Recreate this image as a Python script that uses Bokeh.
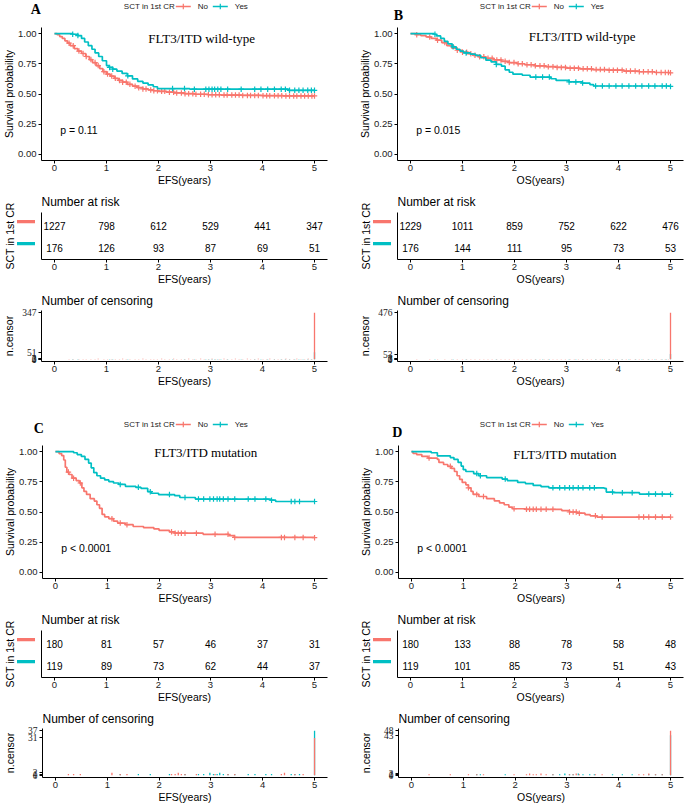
import numpy as np
from bokeh.plotting import figure
from bokeh.layouts import column, row
from bokeh.models import Label, FixedTicker, Range1d, NumeralTickFormatter
from bokeh.core.properties import value
from bokeh.embed import file_html
from bokeh.resources import INLINE

# ---------------- data ----------------
years = [0, 1, 2, 3, 4, 5]
legend_title = "SCT in 1st CR"
group_labels = ["No", "Yes"]
row_pos = {"No": 2, "Yes": 1}

# Panel A: FLT3/ITD wild-type, EFS
A_no_t = [0, 0.05, 0.10, 0.15, 0.20, 0.25, 0.30, 0.38, 0.45, 0.52, 0.60, 0.67, 0.73, 0.80, 0.87, 0.93,
          1.00, 1.07, 1.15, 1.23, 1.31, 1.40, 1.50, 1.60, 1.70, 1.80, 1.90, 2.00, 2.15, 2.30, 2.50, 2.70, 2.95,
          3.20, 3.60, 4.00, 4.40, 5.00]
A_no_s = [1.0, 0.99, 0.975, 0.96, 0.94, 0.92, 0.90, 0.875, 0.855, 0.835, 0.81, 0.785, 0.76, 0.735, 0.71, 0.685,
          0.665, 0.648, 0.63, 0.612, 0.598, 0.58, 0.565, 0.552, 0.542, 0.534, 0.527, 0.522, 0.515, 0.509, 0.503, 0.498, 0.494,
          0.491, 0.488, 0.486, 0.484, 0.484]
A_yes_t = [0, 0.35, 0.45, 0.52, 0.58, 0.65, 0.72, 0.78, 0.85, 0.92, 1.00, 1.05, 1.12, 1.20, 1.30,
           1.40, 1.50, 1.60, 1.70, 1.80, 1.90, 1.98, 2.60, 4.50, 5.00]
A_yes_s = [1.0, 0.994, 0.983, 0.96, 0.93, 0.90, 0.87, 0.84, 0.81, 0.775, 0.735, 0.72, 0.705, 0.69, 0.67,
           0.65, 0.625, 0.605, 0.59, 0.575, 0.56, 0.545, 0.54, 0.53, 0.53]
A_no_ct = [0.28, 0.36, 0.47, 0.55, 0.61, 0.70, 0.78, 0.84,
           0.95, 1.02, 1.10, 1.17, 1.25, 1.31, 1.38, 1.45,
           1.55, 1.62, 1.70, 1.76, 1.85, 1.91, 1.98, 2.06,
           2.12, 2.21, 2.29, 2.35, 2.44, 2.51, 2.58, 2.66,
           2.72, 2.81, 2.88, 2.96, 3.03, 3.10, 3.17, 3.26,
           3.32, 3.41, 3.48, 3.55, 3.62, 3.71, 3.77, 3.85,
           3.92, 4.01, 4.08, 4.14, 4.23, 4.30, 4.37, 4.45,
           4.52, 4.60, 4.66, 4.74, 4.81, 4.88, 4.95, 5.00]
A_no_cn = [1, 1, 2, 1, 1, 2, 1, 3,
           1, 2, 1, 1, 2, 3, 1, 2,
           1, 2, 3, 2, 1, 2, 2, 3,
           2, 1, 3, 2, 2, 1, 3, 2,
           2, 3, 1, 2, 3, 2, 2, 3,
           1, 2, 3, 2, 1, 3, 2, 2,
           3, 1, 2, 3, 2, 2, 1, 3,
           2, 2, 3, 1, 2, 3, 2, 347]
A_yes_ct = [0.35, 0.45, 1.06, 1.12, 1.41, 2.27, 2.50, 2.69,
            2.91, 2.97, 3.03, 3.08, 3.14, 3.20, 3.33, 3.59,
            3.85, 3.97, 4.10, 4.23, 4.36, 4.44, 4.52, 4.62,
            4.70, 4.78, 4.87, 4.94, 5.00]
A_yes_cn = [1, 1, 1, 1, 1, 1, 1, 1,
            1, 1, 2, 1, 1, 1, 1, 1,
            1, 1, 1, 1, 1, 1, 1, 1,
            1, 1, 1, 1, 51]
A_risk_no = [1227, 798, 612, 529, 441, 347]
A_risk_yes = [176, 126, 93, 87, 69, 51]

# Panel B: FLT3/ITD wild-type, OS
B_no_t = [0, 0.10, 0.20, 0.30, 0.40, 0.50, 0.60, 0.70, 0.80, 0.90, 1.00, 1.10, 1.20, 1.30, 1.45, 1.60,
          1.75, 1.90, 2.05, 2.20, 2.40, 2.60, 2.80, 3.00, 3.25, 3.50, 3.80, 4.10, 4.40, 4.70, 5.00]
B_no_s = [1.0, 0.99, 0.982, 0.972, 0.96, 0.945, 0.925, 0.90, 0.88, 0.862, 0.846, 0.833, 0.82, 0.808, 0.795, 0.782,
          0.77, 0.76, 0.75, 0.742, 0.733, 0.726, 0.72, 0.714, 0.708, 0.702, 0.697, 0.69, 0.684, 0.678, 0.675]
B_yes_t = [0, 0.45, 0.50, 0.58, 0.65, 0.72, 0.80, 0.88, 0.95, 1.02, 1.15, 1.25, 1.35, 1.45, 1.55,
           1.65, 1.75, 1.82, 1.90, 1.97, 2.15, 2.30, 2.70, 2.80, 3.05, 3.30, 3.45, 3.52, 5.00]
B_yes_s = [1.0, 0.994, 0.98, 0.96, 0.935, 0.915, 0.89, 0.87, 0.855, 0.84, 0.83, 0.82, 0.80, 0.78, 0.765,
           0.745, 0.73, 0.70, 0.68, 0.664, 0.655, 0.64, 0.626, 0.612, 0.60, 0.59, 0.578, 0.566, 0.563]
B_no_ct = [0.12, 0.37, 0.52, 0.66, 0.79, 0.90, 1.00, 1.08,
           1.16, 1.24, 1.33, 1.41, 1.49, 1.57, 1.66, 1.74,
           1.82, 1.90, 1.99, 2.07, 2.15, 2.24, 2.32, 2.40,
           2.49, 2.57, 2.65, 2.74, 2.82, 2.90, 2.98, 3.07,
           3.15, 3.23, 3.32, 3.40, 3.48, 3.57, 3.65, 3.73,
           3.82, 3.90, 3.98, 4.07, 4.15, 4.23, 4.32, 4.40,
           4.48, 4.57, 4.65, 4.73, 4.82, 4.90, 4.96, 5.00]
B_no_cn = [1, 1, 1, 2, 1, 2, 1, 2,
           3, 2, 1, 2, 3, 2, 2, 3,
           2, 2, 3, 2, 3, 2, 2, 3,
           2, 3, 2, 2, 3, 2, 3, 2,
           2, 3, 2, 3, 2, 2, 3, 2,
           3, 2, 2, 3, 2, 3, 2, 2,
           3, 2, 2, 3, 2, 3, 2, 476]
B_yes_ct = [0.47, 0.82, 1.07, 1.65, 2.41, 2.54, 2.67, 3.05,
            3.18, 3.31, 3.56, 3.69, 3.82, 3.95, 4.07, 4.20,
            4.33, 4.45, 4.58, 4.70, 4.84, 4.92, 5.00]
B_yes_cn = [1, 1, 1, 1, 1, 1, 1, 1,
            1, 1, 1, 1, 1, 1, 1, 1,
            1, 1, 1, 1, 1, 1, 53]
B_risk_no = [1229, 1011, 859, 752, 622, 476]
B_risk_yes = [176, 144, 111, 95, 73, 53]

# Panel C: FLT3/ITD mutation, EFS
C_no_t = [0, 0.07, 0.12, 0.16, 0.19, 0.22, 0.26, 0.32, 0.40, 0.46, 0.51, 0.55, 0.60, 0.67, 0.75,
          0.80, 0.85, 0.90, 0.95, 1.03, 1.12, 1.20, 1.35, 1.50, 1.70, 1.90, 2.00, 2.20, 2.30, 2.85,
          3.35, 3.45, 5.00]
C_no_s = [1.0, 0.983, 0.967, 0.93, 0.87, 0.83, 0.81, 0.78, 0.76, 0.74, 0.70, 0.67, 0.645, 0.61, 0.59,
          0.56, 0.53, 0.48, 0.46, 0.445, 0.425, 0.408, 0.395, 0.38, 0.37, 0.36, 0.348, 0.336, 0.325, 0.315,
          0.305, 0.29, 0.288]
C_yes_t = [0, 0.35, 0.42, 0.50, 0.57, 0.64, 0.69, 0.74, 0.80, 0.87, 0.95, 1.03, 1.12, 1.22, 1.35,
           1.55, 1.65, 1.78, 1.85, 1.99, 2.30, 2.40, 2.70, 4.15, 4.25, 5.00]
C_yes_s = [1.0, 0.99, 0.975, 0.96, 0.935, 0.905, 0.865, 0.825, 0.80, 0.78, 0.765, 0.752, 0.74, 0.728, 0.712,
           0.704, 0.696, 0.668, 0.655, 0.644, 0.635, 0.62, 0.607, 0.598, 0.587, 0.587]
C_no_ct = [0.25, 0.35, 0.48, 1.09, 1.25, 1.38, 2.24, 2.31,
           2.37, 2.43, 2.50, 2.72, 3.08, 3.33, 3.46, 4.36,
           4.42, 4.62, 4.78, 5.00]
C_no_cn = [1, 1, 1, 2, 1, 1, 1, 1,
           2, 1, 1, 1, 1, 1, 1, 1,
           2, 1, 1, 31]
C_yes_ct = [1.25, 1.60, 1.83, 2.20, 2.50, 2.76, 2.86, 2.98,
            3.05, 3.12, 3.17, 3.24, 3.33, 3.46, 3.72, 3.85,
            4.06, 4.17, 4.55, 4.62, 4.71, 5.00]
C_yes_cn = [1, 1, 1, 1, 1, 1, 1, 2,
            1, 1, 2, 1, 1, 1, 1, 1,
            1, 1, 1, 1, 1, 37]
C_risk_no = [180, 81, 57, 46, 37, 31]
C_risk_yes = [119, 89, 73, 62, 44, 37]

# Panel D: FLT3/ITD mutation, OS
D_no_t = [0, 0.03, 0.10, 0.20, 0.32, 0.50, 0.53, 0.62, 0.70, 0.77, 0.83, 0.88, 0.93, 0.98, 1.05,
          1.10, 1.15, 1.19, 1.30, 1.45, 1.60, 1.70, 1.79, 1.88, 1.95, 2.20, 2.90, 3.05, 3.20, 3.35,
          3.45, 3.58, 5.00]
D_no_s = [1.0, 0.985, 0.975, 0.96, 0.946, 0.935, 0.91, 0.893, 0.878, 0.86, 0.835, 0.80, 0.77, 0.745, 0.725,
          0.70, 0.67, 0.645, 0.628, 0.61, 0.592, 0.575, 0.56, 0.54, 0.527, 0.522, 0.512, 0.50, 0.49, 0.478,
          0.468, 0.458, 0.458]
D_yes_t = [0, 0.38, 0.50, 0.75, 0.82, 0.90, 0.96, 1.00, 1.05, 1.20, 1.30, 1.45, 1.75, 1.85, 2.05,
           2.20, 2.35, 2.50, 2.65, 3.72, 3.76, 3.90, 4.40, 5.00]
D_yes_s = [1.0, 0.99, 0.965, 0.95, 0.935, 0.91, 0.88, 0.85, 0.835, 0.818, 0.80, 0.785, 0.772, 0.76, 0.745,
           0.735, 0.72, 0.71, 0.70, 0.695, 0.665, 0.66, 0.648, 0.645]
D_no_ct = [0.34, 0.75, 1.10, 1.26, 1.39, 1.98, 2.22, 2.28,
           2.35, 2.41, 2.50, 2.60, 2.73, 3.05, 3.12, 3.18,
           3.24, 3.55, 3.68, 4.39, 4.48, 4.58, 4.71, 4.84,
           5.00]
D_no_cn = [1, 1, 1, 1, 1, 1, 1, 2,
           1, 1, 2, 1, 1, 1, 1, 2,
           1, 1, 1, 1, 1, 2, 1, 1,
           48]
D_yes_ct = [1.26, 1.33, 1.81, 2.73, 2.86, 2.96, 3.05, 3.12,
            3.22, 3.31, 3.44, 3.53, 3.88, 4.07, 4.26, 4.58,
            4.71, 4.84, 5.00]
D_yes_cn = [1, 1, 1, 1, 1, 2, 1, 1,
            2, 1, 1, 1, 1, 1, 1, 1,
            1, 1, 43]
D_risk_no = [180, 133, 88, 78, 58, 48]
D_risk_yes = [119, 101, 85, 73, 51, 43]

panels = {
    "A": dict(title="FLT3/ITD wild-type", pval="p = 0.11", xlab="EFS(years)",
              no=(A_no_t, A_no_s, A_no_ct, A_no_cn), yes=(A_yes_t, A_yes_s, A_yes_ct, A_yes_cn),
              risk=(A_risk_no, A_risk_yes)),
    "B": dict(title="FLT3/ITD wild-type", pval="p = 0.015", xlab="OS(years)",
              no=(B_no_t, B_no_s, B_no_ct, B_no_cn), yes=(B_yes_t, B_yes_s, B_yes_ct, B_yes_cn),
              risk=(B_risk_no, B_risk_yes)),
    "C": dict(title="FLT3/ITD mutation", pval="p < 0.0001", xlab="EFS(years)",
              no=(C_no_t, C_no_s, C_no_ct, C_no_cn), yes=(C_yes_t, C_yes_s, C_yes_ct, C_yes_cn),
              risk=(C_risk_no, C_risk_yes)),
    "D": dict(title="FLT3/ITD mutation", pval="p < 0.0001", xlab="OS(years)",
              no=(D_no_t, D_no_s, D_no_ct, D_no_cn), yes=(D_yes_t, D_yes_s, D_yes_ct, D_yes_cn),
              risk=(D_risk_no, D_risk_yes)),
}

# ---------------- style / layout ----------------
RED = "#F8766D"
TEAL = "#00BFC4"
SANS = "Liberation Sans"
SERIF = "Liberation Serif"
TICK_FS = "9.5px"
LAB_FS = "10.5px"
FW = 286                 # frame width (px)
X0, X1 = -0.25, 5.25
FRAME_L = 41             # frame left within a column
RISK_BL = 5              # left border of the risk table figure
RS_BL = 14               # left border (axis title) of the risk key strip
HEAD_H = 22
SURV = (5, 133, 29)
RISK = (23, 49, 26)
CENS = (23, 51, 26)
RISK_Y = (0.43, 2.57)
GAP_A = 31

# annotation placement per panel
place = {
    "A": dict(lx=35.3, ly=8.7, tx=2.83, ty=0.955),
    "B": dict(lx=42.0, ly=14.7, tx=3.30, ty=0.978),
    "C": dict(lx=38.3, ly=10.0, tx=2.90, ty=0.994),
    "D": dict(lx=40.7, ly=13.7, tx=2.96, ty=0.973),
}


def clean(p):
    p.outline_line_color = None
    p.xgrid.visible = False
    p.ygrid.visible = False
    p.background_fill_color = "white"
    p.border_fill_color = "white"
    return p


def base_fig(width, spec, bl, br, y_range, extra_bottom=0):
    top, fh, bot = spec
    p = figure(width=width, height=top + fh + bot + extra_bottom,
               x_range=Range1d(X0, X1), y_range=y_range,
               output_backend="svg", toolbar_location=None,
               min_border_left=bl, min_border_right=br,
               min_border_top=top, min_border_bottom=bot + extra_bottom)
    return clean(p)


def style_axis(ax, label=None, vertical=False, tick_font=SANS, label_standoff=0):
    ax.axis_line_color = "black"
    ax.axis_line_width = 1
    ax.major_tick_line_color = "black"
    ax.major_tick_line_width = 1
    ax.major_tick_out = 3
    ax.major_tick_in = 0
    ax.minor_tick_line_color = None
    ax.major_label_text_font = tick_font
    ax.major_label_text_font_size = TICK_FS
    ax.major_label_text_color = "#222222"
    ax.major_label_standoff = 2 if vertical else 1
    if label is not None:
        ax.axis_label = label
    ax.axis_label_text_font = SANS
    ax.axis_label_text_font_size = LAB_FS
    ax.axis_label_text_font_style = "normal"
    ax.axis_label_text_color = "black"
    ax.axis_label_standoff = int(label_standoff)


def step_at(t, s, ct):
    t = np.asarray(t)
    s = np.asarray(s)
    idx = np.searchsorted(t, np.asarray(ct), side="right") - 1
    return s[np.clip(idx, 0, len(s) - 1)]


def header_fig(key, width):
    L = place[key]
    h = clean(figure(width=width, height=HEAD_H, x_range=Range1d(0, width), y_range=Range1d(HEAD_H, 0),
                     output_backend="svg", toolbar_location=None, min_border=0,
                     x_axis_type=None, y_axis_type=None))
    ly = 6
    h.add_layout(Label(x=FRAME_L + 82.3, y=ly, text=legend_title, text_font=SANS, text_font_size="8px",
                       text_color="#222222", text_align="left", text_baseline="middle"))
    for i, (lab, col) in enumerate(zip(group_labels, (RED, TEAL))):
        xs = FRAME_L + 134.3 + i * 37
        h.segment(x0=[xs], y0=[ly], x1=[xs + 15], y1=[ly], line_color=col, line_width=1.7)
        h.scatter(x=[xs + 7.5], y=[ly], marker="cross", size=5.5, line_color=col, line_width=1.2)
        h.add_layout(Label(x=xs + 22, y=ly, text=lab, text_font=SANS, text_font_size="8px",
                           text_color="#222222", text_align="left", text_baseline="middle"))
    h.add_layout(Label(x=L["lx"], y=L["ly"], text=key, text_font=SERIF, text_font_size="14px",
                       text_font_style="bold", text_color="black",
                       text_align="center", text_baseline="middle"))
    return h


def risk_strip(width):
    top, fh, bot = RISK
    y0, y1 = RISK_Y
    s = clean(figure(width=width, height=top + fh + bot, x_range=Range1d(RS_BL, width),
                     y_range=Range1d(y0, y1), output_backend="svg", toolbar_location=None,
                     min_border_left=RS_BL, min_border_right=0, min_border_top=top,
                     min_border_bottom=bot, x_axis_type=None))
    ax = s.yaxis[0]
    style_axis(ax, legend_title, vertical=True)
    ax.axis_line_color = None
    ax.major_tick_line_color = None
    ax.major_tick_out = 0
    ax.major_label_standoff = 0
    ax.ticker = FixedTicker(ticks=[])
    dy = 3.5 * (y1 - y0) / fh
    for g, col in zip(group_labels, (RED, TEAL)):
        s.rect(x=[25], y=[row_pos[g] + dy], width=18, height=3.3,
               width_units="screen", height_units="screen", fill_color=col, line_color=None)
    return s


def surv_fig(key, width, br):
    P = panels[key]
    L = place[key]
    p = base_fig(width, SURV, FRAME_L, br, Range1d(-0.05, 1.05))
    style_axis(p.xaxis[0], P["xlab"])
    style_axis(p.yaxis[0], "Survival probability", vertical=True)
    p.xaxis.ticker = FixedTicker(ticks=years)
    p.yaxis.ticker = FixedTicker(ticks=[0, 0.25, 0.5, 0.75, 1.0])
    p.yaxis.formatter = NumeralTickFormatter(format="0.00")
    for g, col in (("no", RED), ("yes", TEAL)):
        t, s, ct, cn = P[g]
        p.step(t, s, mode="after", line_color=col, line_width=1.7)
        p.scatter(ct, step_at(t, s, ct), marker="cross", size=5.5, line_color=col, line_width=1.2)
    p.add_layout(Label(x=L["tx"], y=L["ty"], text=P["title"], text_font=SERIF,
                       text_font_size="13px", text_color="black",
                       text_align="center", text_baseline="middle"))
    p.add_layout(Label(x=0.11, y=0.2, text=P["pval"], text_font=SANS,
                       text_font_size="10.5px", text_color="black",
                       text_align="left", text_baseline="middle"))
    return p


def risk_fig(key, width, br):
    P = panels[key]
    p = base_fig(width, RISK, RISK_BL, br, Range1d(*RISK_Y))
    style_axis(p.xaxis[0], P["xlab"])
    style_axis(p.yaxis[0], None, vertical=True)
    p.xaxis.ticker = FixedTicker(ticks=years)
    p.yaxis.ticker = FixedTicker(ticks=[])
    p.yaxis.major_tick_out = 0
    p.yaxis.major_label_standoff = 0
    p.title.text = "Number at risk"
    p.title.text_font = SANS
    p.title.text_font_size = "12px"
    p.title.text_font_style = "normal"
    p.title.text_color = "black"
    p.title.standoff = 7
    for g, vals in zip(group_labels, P["risk"]):
        yv = row_pos[g]
        p.text(x=years, y=[yv] * len(years), text=[str(v) for v in vals],
               text_font=value(SANS), text_font_size="10px", text_color="black",
               text_align="center", text_baseline="middle", y_offset=1)
    return p


def cens_fig(key, width, br, extra_bottom=0):
    P = panels[key]
    no_ct, no_cn = P["no"][2], P["no"][3]
    yes_ct, yes_cn = P["yes"][2], P["yes"][3]
    m = max(no_cn + yes_cn)
    p = base_fig(width, CENS, FRAME_L, br, Range1d(-0.05 * m, 1.05 * m), extra_bottom)
    style_axis(p.xaxis[0], P["xlab"])
    style_axis(p.yaxis[0], "n.censor", vertical=True, tick_font=SERIF,
               label_standoff=round(18.5 - 0.5 * 9.5 * len(str(m))))
    p.xaxis.ticker = FixedTicker(ticks=years)
    p.yaxis.ticker = FixedTicker(ticks=sorted(set([0] + no_cn + yes_cn)))
    p.vbar(x=yes_ct, top=yes_cn, width=0.025, fill_color=TEAL, line_color=None)
    p.vbar(x=no_ct, top=no_cn, width=0.025, fill_color=RED, line_color=None)
    p.title.text = "Number of censoring"
    p.title.text_font = SANS
    p.title.text_font_size = "12px"
    p.title.text_font_style = "normal"
    p.title.text_color = "black"
    p.title.standoff = 6
    return p


def block(key, col_w, br, extra_bottom):
    rs_w = FRAME_L - RISK_BL
    r_row = row(risk_strip(rs_w), risk_fig(key, col_w - rs_w, br))
    body = column(surv_fig(key, col_w, br), r_row, cens_fig(key, col_w, br, extra_bottom))
    return column(header_fig(key, col_w), body)


COL_A = 356
COL_B = 329
BR_A = COL_A - FRAME_L - FW
BR_B = COL_B - FRAME_L - FW

left = column(block("A", COL_A, BR_A, GAP_A), block("C", COL_A, BR_A, 0))
right = column(block("B", COL_B, BR_B, GAP_A), block("D", COL_B, BR_B, 0))
layout = row(left, right)

open("out.html", "w").write(file_html(layout, INLINE))
